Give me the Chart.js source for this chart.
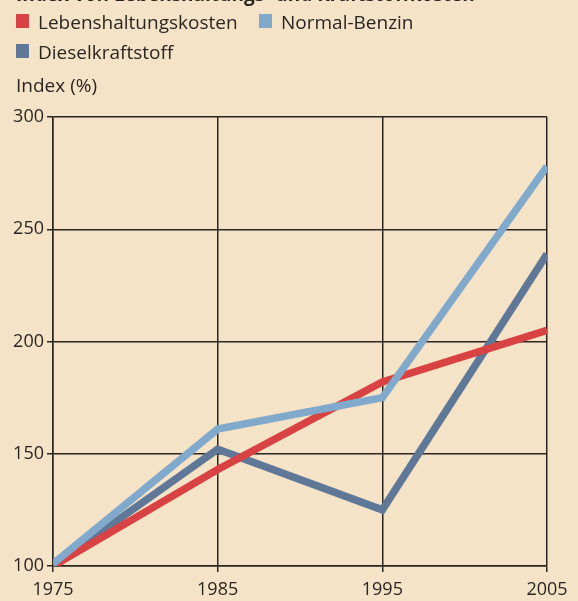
<!DOCTYPE html>
<html>
<head>
<meta charset="utf-8">
<script src="https://cdn.jsdelivr.net/npm/chart.js@4"></script>
<style>
  html, body { margin: 0; padding: 0; background: #f5e3c8; }
  #wrap { width: 578px; height: 601px; position: relative; }
</style>
</head>
<body>
<div id="wrap"><canvas id="chart" width="578" height="601"></canvas></div>
<script>
  const titleText = "Index von Lebenshaltungs- und Kraftstoffkosten";
  const axisLabel = "Index (%)";
  const years = [1975, 1985, 1995, 2005];
  const lebenshaltung = [100, 143, 182, 205];
  const benzin = [101, 161, 175, 278];
  const diesel = [100, 152, 125, 239];
  const yTicks = [100, 150, 200, 250, 300];

  const ink = "#2b2522";
  const fontFam = "'Open Sans', 'Noto Sans', sans-serif";

  function pts(vals) {
    return vals.map((v, i) => ({ x: years[i], y: v }));
  }

  // title (cut off at the top), legend and axis caption
  const headerPlugin = {
    id: "header",
    afterDraw(chart) {
      const ctx = chart.ctx;
      ctx.save();
      ctx.fillStyle = ink;
      ctx.textBaseline = "alphabetic";
      ctx.font = "bold 19px " + fontFam;
      ctx.fillText(titleText, 16, 1);

      const ds = chart.data.datasets;
      const slots = [
        { i: 0, x: 16, y: 14 },
        { i: 1, x: 259, y: 14 },
        { i: 2, x: 16, y: 44 }
      ];
      ctx.font = "19px " + fontFam;
      slots.forEach(s => {
        ctx.fillStyle = ds[s.i].borderColor;
        ctx.fillRect(s.x, s.y, 13, 14);
        ctx.fillStyle = ink;
        ctx.fillText(ds[s.i].label, s.x + 22, s.y + 15);
      });
      ctx.fillText(axisLabel, 16, 92);
      ctx.restore();
    }
  };

  new Chart(document.getElementById("chart").getContext("2d"), {
    type: "line",
    data: {
      datasets: [
        { label: "Lebenshaltungskosten", data: pts(lebenshaltung), borderColor: "#d94242", order: 2 },
        { label: "Normal-Benzin", data: pts(benzin), borderColor: "#80a9cb", order: 1 },
        { label: "Dieselkraftstoff", data: pts(diesel), borderColor: "#5f7898", order: 3 }
      ].map(d => Object.assign({
        borderWidth: 7.5,
        pointRadius: 0,
        fill: false,
        tension: 0,
        borderJoinStyle: "miter",
        borderCapStyle: "butt"
      }, d))
    },
    options: {
      responsive: false,
      animation: false,
      layout: { padding: { left: 0, top: 117, right: 31, bottom: 0 } },
      plugins: { legend: { display: false }, tooltip: { enabled: false } },
      scales: {
        x: {
          type: "linear",
          min: 1975,
          max: 2005,
          afterBuildTicks: s => { s.ticks = years.map(v => ({ value: v })); },
          afterFit: s => { s.height = 35; },
          grid: { color: ink, lineWidth: 1.5, tickLength: 6 },
          border: { color: ink, width: 1.5 },
          ticks: {
            color: ink, font: { family: fontFam, size: 18 }, padding: 7, maxRotation: 0,
            callback: v => String(v)
          }
        },
        y: {
          min: 100,
          max: 300,
          afterBuildTicks: s => { s.ticks = yTicks.map(v => ({ value: v })); },
          afterFit: s => { s.width = 53; },
          grid: { color: ink, lineWidth: 1.5, tickLength: 6 },
          border: { color: ink, width: 1.5 },
          ticks: { color: ink, font: { family: fontFam, size: 18 }, padding: 3 }
        }
      }
    },
    plugins: [headerPlugin]
  });
</script>
</body>
</html>
